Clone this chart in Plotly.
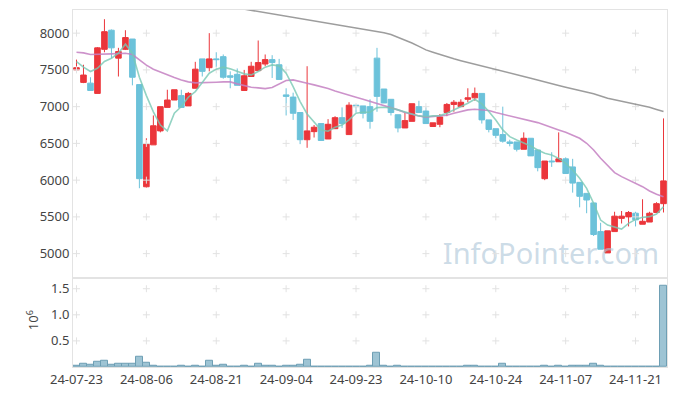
import plotly.graph_objects as go
from plotly.subplots import make_subplots

dates = [
    "24-07-23", "24-07-24", "24-07-25", "24-07-26", "24-07-29", "24-07-30", "24-07-31",
    "24-08-01", "24-08-02", "24-08-05", "24-08-06", "24-08-07", "24-08-08", "24-08-09",
    "24-08-12", "24-08-13", "24-08-14", "24-08-16", "24-08-19", "24-08-20", "24-08-21",
    "24-08-22", "24-08-23", "24-08-26", "24-08-27", "24-08-28", "24-08-29", "24-08-30",
    "24-09-02", "24-09-03", "24-09-04", "24-09-05", "24-09-06", "24-09-09", "24-09-10",
    "24-09-11", "24-09-12", "24-09-13", "24-09-19", "24-09-20", "24-09-23", "24-09-24",
    "24-09-25", "24-09-26", "24-09-27", "24-09-30", "24-10-02", "24-10-04", "24-10-07",
    "24-10-08", "24-10-10", "24-10-11", "24-10-14", "24-10-15", "24-10-16", "24-10-17",
    "24-10-18", "24-10-21", "24-10-22", "24-10-23", "24-10-24", "24-10-25", "24-10-28",
    "24-10-29", "24-10-30", "24-10-31", "24-11-01", "24-11-04", "24-11-05", "24-11-06",
    "24-11-07", "24-11-08", "24-11-11", "24-11-12", "24-11-13", "24-11-14", "24-11-15",
    "24-11-18", "24-11-19", "24-11-20", "24-11-21", "24-11-22", "24-11-25", "24-11-26",
    "24-11-27",
]

open_ = [7500, 7330, 7320, 7180, 7780, 8040, 7660, 7780, 7920, 7300,
         5910, 6480, 6670, 6990, 7090, 7150, 7010, 7250, 7650, 7530,
         7650, 7680, 7420, 7440, 7220, 7410, 7490, 7580, 7640, 7570,
         7160, 7130, 6920, 6550, 6660, 6770, 6560, 6700, 6850, 6620,
         7020, 7010, 7000, 7660, 7240, 7100, 6890, 6710, 6800, 7000,
         6940, 6730, 6760, 6920, 7030, 7000, 7100, 7120, 7180, 6820,
         6700, 6620, 6520, 6520, 6420, 6570, 6410, 6020, 6260, 6250,
         6290, 6180, 5970, 5820, 5690, 5300, 5010, 5300, 5480, 5500,
         5550, 5400, 5430, 5560, 5680]
high = [7640, 7570, 7400, 7810, 8190, 8050, 7800, 8040, 7920, 7300,
        6570, 6880, 7000, 7230, 7230, 7230, 7200, 7610, 7650, 8000,
        7740, 7710, 7480, 7520, 7500, 7610, 7900, 7710, 7700, 7650,
        7250, 7190, 6920, 7550, 6750, 6770, 6830, 6870, 6990, 7060,
        7020, 7010, 7100, 7800, 7240, 7100, 6890, 6920, 7040, 7080,
        6990, 6780, 6900, 7050, 7090, 7100, 7250, 7260, 7180, 6820,
        6700, 7000, 6550, 6520, 6650, 6570, 6410, 6260, 6380, 6650,
        6310, 6290, 5970, 5820, 5690, 5420, 5310, 5570, 5580, 5580,
        5570, 5740, 5570, 5700, 6840]
low = [7490, 7320, 7215, 7180, 7740, 7660, 7410, 7770, 7290, 5890,
       5900, 6480, 6650, 6990, 7090, 6990, 7010, 7250, 7410, 7480,
       7540, 7380, 7250, 7290, 7220, 7410, 7490, 7550, 7390, 7370,
       6880, 6820, 6490, 6440, 6580, 6540, 6560, 6700, 6710, 6620,
       6920, 6840, 6700, 6930, 7050, 6880, 6650, 6710, 6800, 6920,
       6770, 6730, 6720, 6870, 6930, 7000, 7060, 7080, 6770, 6650,
       6570, 6510, 6460, 6390, 6420, 6330, 6120, 6000, 6180, 6250,
       6090, 5830, 5630, 5550, 5240, 5060, 5010, 5300, 5410, 5370,
       5370, 5400, 5430, 5560, 5560]
close = [7530, 7430, 7220, 7800, 8020, 7800, 7750, 7940, 7400, 6020,
         6490, 6740, 7000, 7090, 7230, 6990, 7180, 7510, 7480, 7650,
         7640, 7400, 7400, 7290, 7420, 7550, 7600, 7640, 7600, 7370,
         7140, 6910, 6550, 6670, 6720, 6540, 6760, 6850, 6770, 7020,
         7000, 6910, 6800, 7140, 7050, 6920, 6710, 6810, 7040, 6920,
         6770, 6780, 6860, 7030, 7060, 7060, 7120, 7180, 6820, 6690,
         6610, 6530, 6500, 6420, 6570, 6330, 6170, 6260, 6250, 6290,
         6090, 5960, 5780, 5730, 5260, 5060, 5310, 5510, 5510, 5560,
         5460, 5440, 5550, 5680, 5990]

volume = [32000, 70000, 51000, 109000, 128000, 51000, 70000, 58000, 70000, 205000,
          90000, 32000, 13000, 13000, 13000, 32000, 13000, 32000, 13000, 128000,
          32000, 51000, 13000, 13000, 32000, 13000, 70000, 32000, 32000, 13000,
          32000, 32000, 51000, 147000, 13000, 13000, 2000, 13000, 13000, 13000,
          2000, 13000, 32000, 282000, 32000, 13000, 32000, 2000, 2000, 13000,
          13000, 13000, 13000, 13000, 2000, 13000, 32000, 32000, 13000, 13000,
          13000, 70000, 13000, 13000, 13000, 13000, 13000, 32000, 13000, 32000,
          13000, 32000, 32000, 32000, 70000, 32000, 13000, 2000, 2000, 13000,
          2000, 13000, 2000, 2000, 1555000]

ma5 = [7614, 7537, 7478, 7523, 7614, 7659, 7727, 7850, 7727, 7400,
       7150, 6930, 6750, 6670, 6910, 7001, 7128, 7205, 7328, 7455,
       7510, 7537, 7514, 7478, 7446, 7432, 7478, 7537, 7568, 7555,
       7455, 7273, 7069, 6900, 6797, 6683, 6665, 6720, 6751, 6819,
       6910, 6924, 6924, 6987, 6992, 6983, 6956, 6933, 6901, 6874,
       6862, 6874, 6878, 6910, 6956, 6992, 7046, 7101, 7037, 6933,
       6819, 6683, 6592, 6547, 6511, 6465, 6411, 6365, 6343, 6297,
       6229, 6138, 6025, 5889, 5684, 5457, 5389, 5357, 5335, 5412,
       5466, 5494, 5503, 5539, 5639]
ma20 = [7741, 7732, 7709, 7709, 7714, 7718, 7723, 7727, 7709, 7640,
        7565, 7510, 7469, 7432, 7396, 7364, 7337, 7323, 7323, 7328,
        7332, 7337, 7337, 7310, 7282, 7264, 7255, 7246, 7260, 7310,
        7355, 7364, 7346, 7319, 7296, 7273, 7246, 7214, 7183, 7155,
        7128, 7101, 7074, 7046, 7019, 6987, 6956, 6919, 6892, 6874,
        6858, 6865, 6869, 6883, 6910, 6937, 6956, 6965, 6960, 6947,
        6919, 6897, 6874, 6851, 6829, 6806, 6783, 6749, 6720, 6683,
        6651, 6615, 6570, 6502, 6411, 6297, 6193, 6102, 6048, 6002,
        5957, 5911, 5852, 5807, 5775]
ma60 = [None] * 23 + [
        8343, 8327, 8311, 8295, 8279, 8263, 8247, 8230,
        8214, 8197, 8181, 8166, 8151, 8137, 8122, 8106, 8091, 8075,
        8059, 8043, 8027, 8005, 7982, 7946, 7909, 7866, 7820, 7773,
        7741, 7709, 7677, 7651, 7625, 7600, 7576, 7552, 7528, 7504,
        7479, 7455, 7432, 7410, 7387, 7360, 7336, 7310, 7287, 7264,
        7244, 7225, 7205, 7175, 7145, 7114, 7094, 7075, 7055, 7034,
        7013, 6992, 6962, 6933]

price_ticks = [5000, 5500, 6000, 6500, 7000, 7500, 8000]
vol_ticks = [0.5, 1.0, 1.5]
vol_tick_text = ["0.5", "1.0", "1.5"]
tick_idx = list(range(0, 81, 10))

x = list(range(len(dates)))
FONT = "Noto Sans"
GRID = "#e2e2e2"
AXIS = "#e3e3e3"

fig = make_subplots(rows=2, cols=1, shared_xaxes=True, vertical_spacing=0,
                    row_heights=[0.75, 0.25])

# watermark (below candles)
fig.add_trace(go.Scatter(x=[67.9], y=[4962], mode="text", text=["InfoPointer.com"],
                         textfont=dict(size=29, color="rgba(176,200,218,0.65)", family=FONT),
                         hoverinfo="skip", showlegend=False), row=1, col=1)

# grid crosses
gx, gy = [], []
for t in tick_idx:
    for v in price_ticks:
        gx.append(t); gy.append(v)
fig.add_trace(go.Scatter(x=gx, y=gy, mode="markers",
                         marker=dict(symbol="cross-thin", size=5, line=dict(color=GRID, width=1)),
                         hoverinfo="skip", showlegend=False), row=1, col=1)
gx2, gy2 = [], []
for t in tick_idx:
    for v in vol_ticks:
        gx2.append(t); gy2.append(v)
fig.add_trace(go.Scatter(x=gx2, y=gy2, mode="markers",
                         marker=dict(symbol="cross-thin", size=5, line=dict(color=GRID, width=1)),
                         hoverinfo="skip", showlegend=False), row=2, col=1)

fig.add_trace(go.Candlestick(
    x=x, open=open_, high=high, low=low, close=close,
    increasing=dict(line=dict(color="#eb363b", width=1), fillcolor="#eb363b"),
    decreasing=dict(line=dict(color="#6cc2da", width=1), fillcolor="#6cc2da"),
    whiskerwidth=0, showlegend=False), row=1, col=1)

fig.add_trace(go.Scatter(x=x, y=ma60, mode="lines",
                         line=dict(color="rgba(140,140,140,0.85)", width=1.5),
                         showlegend=False), row=1, col=1)
fig.add_trace(go.Scatter(x=x, y=ma20, mode="lines",
                         line=dict(color="rgba(196,128,194,0.85)", width=1.6),
                         showlegend=False), row=1, col=1)
fig.add_trace(go.Scatter(x=x, y=ma5, mode="lines",
                         line=dict(color="rgba(120,200,180,0.8)", width=1.6),
                         showlegend=False), row=1, col=1)

fig.add_trace(go.Bar(x=x, y=[v / 1e6 for v in volume],
                     marker=dict(color="#9ec4d4", line=dict(color="#6e9fb4", width=1)),
                     showlegend=False), row=2, col=1)

fig.add_annotation(text="10<sup>6</sup>", xref="paper", yref="paper",
                   x=-0.068, y=0.13, xanchor="center", yanchor="middle",
                   textangle=-90, showarrow=False,
                   font=dict(size=13, color="#444", family=FONT))

fig.update_layout(
    width=669, height=388,
    margin=dict(l=65, r=10, t=2, b=29, autoexpand=False),
    paper_bgcolor="white", plot_bgcolor="white",
    bargap=0, boxgap=0.2, boxgroupgap=0,
    font=dict(family=FONT, size=13, color="#444"),
    xaxis=dict(range=[-0.5, 84.5], showgrid=False, zeroline=False, showticklabels=False,
               showline=True, linecolor=AXIS, mirror=True, rangeslider=dict(visible=False)),
    xaxis2=dict(range=[-0.5, 84.5], showgrid=False, zeroline=False,
                tickmode="array", tickvals=tick_idx, ticktext=[dates[i] for i in tick_idx],
                showline=True, linecolor=AXIS, mirror=True, ticks="",
                tickfont=dict(size=13, color="#444")),
    yaxis=dict(range=[4672, 8315], showgrid=False, zeroline=False,
               tickmode="array", tickvals=price_ticks,
               showline=True, linecolor=AXIS, mirror=True, ticks="",
               tickfont=dict(size=13, color="#444")),
    yaxis2=dict(range=[0, 1.71], showgrid=False, zeroline=False,
                tickmode="array", tickvals=vol_ticks, ticktext=vol_tick_text,
                showline=True, linecolor=AXIS, mirror=True, ticks="",
                tickfont=dict(size=13, color="#444")),
)

fig.write_html("out.html")
